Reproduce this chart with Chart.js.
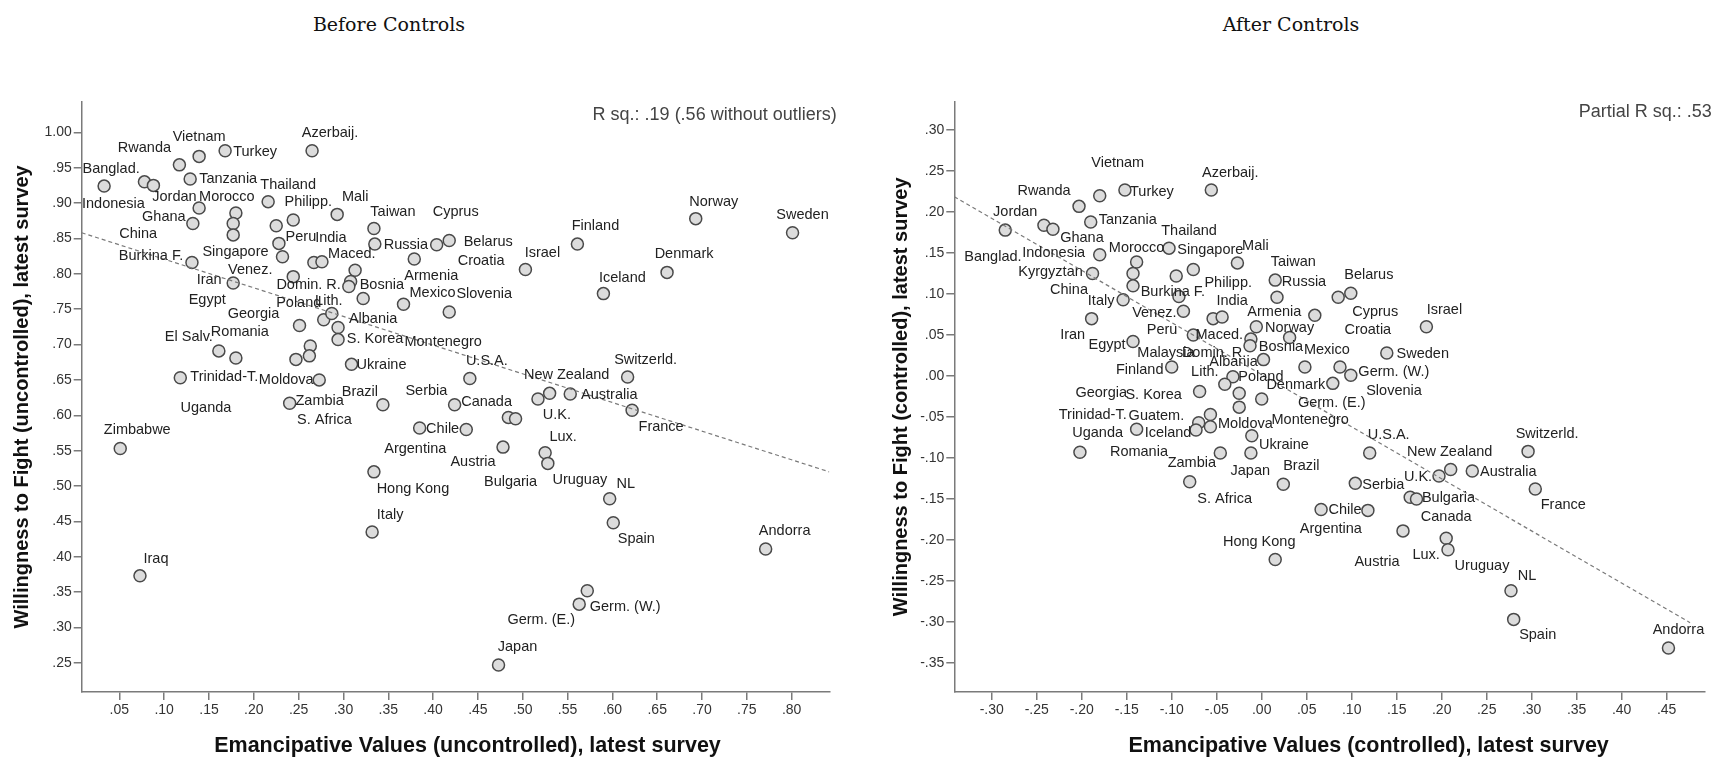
<!DOCTYPE html>
<html>
<head>
<meta charset="utf-8">
<script src="https://cdn.jsdelivr.net/npm/chart.js@4.4.1/dist/chart.umd.min.js"></script>
<style>
  body { margin: 0; background: #fff; width: 1715px; height: 758px; overflow: hidden; position: relative; }
  .panel { position: absolute; top: 90px; width: 845px; height: 668px; }
  .heading { position: absolute; top: 10px; line-height: 28px; font-family: "DejaVu Serif", serif; font-size: 19px; color: #111; transform: translateX(-50%); white-space: nowrap; }
</style>
</head>
<body>
<div class="heading" style="left:389px">Before Controls</div>
<div class="heading" style="left:1291px">After Controls</div>
<div class="panel" style="left:0"><canvas id="chartBefore" width="845" height="668"></canvas></div>
<div class="panel" style="left:870px"><canvas id="chartAfter" width="845" height="668"></canvas></div>

<script>
// Antes dos controles (uncontrolled)
const beforeCountries = [
  "Banglad.", "Indonesia", "Jordan", "Rwanda", "Vietnam", "Turkey", "Azerbaij.", "Tanzania", "China", "Ghana",
  "Morocco", "", "Egypt", "Thailand", "", "Philipp.", "Mali", "Peru", "Singapore", "Burkina F.",
  "Iran", "Venez.", "Maced.", "India", "Croatia", "Domin. R.", "Bosnia", "Montenegro", "Poland", "Lith.",
  "Albania", "S. Korea", "Georgia", "El Salv.", "Romania", "", "S. Africa", "Uganda", "Moldova", "Trinidad-T.",
  "Zambia", "Ukraine", "Taiwan", "Russia", "Cyprus", "Belarus", "Armenia", "Mexico", "Slovenia", "U.S.A.",
  "Brazil", "Canada", "Israel", "Finland", "Iceland", "U.K.", "New Zealand", "Australia", "Switzerld.", "France",
  "Serbia", "Bulgaria", "Norway", "Sweden", "Denmark", "Zimbabwe", "Iraq", "Chile", "Argentina", "Austria",
  "Lux.", "Uruguay", "Hong Kong", "NL", "Spain", "Italy", "Germ. (E.)", "Germ. (W.)", "Japan", "Andorra",
];
const beforeEmancipation = [
  0.033, 0.078, 0.088, 0.117, 0.139, 0.168, 0.265, 0.129, 0.139, 0.132,
  0.180, 0.177, 0.177, 0.216, 0.225, 0.244, 0.293, 0.228, 0.232, 0.131,
  0.177, 0.244, 0.267, 0.276, 0.313, 0.308, 0.306, 0.322, 0.278, 0.287,
  0.294, 0.294, 0.251, 0.161, 0.180, 0.263, 0.262, 0.247, 0.273, 0.118,
  0.240, 0.309, 0.334, 0.335, 0.404, 0.418, 0.379, 0.367, 0.418, 0.441,
  0.344, 0.424, 0.503, 0.561, 0.590, 0.517, 0.530, 0.553, 0.617, 0.622,
  0.484, 0.492, 0.693, 0.801, 0.661, 0.051, 0.073, 0.385, 0.437, 0.478,
  0.525, 0.528, 0.334, 0.597, 0.601, 0.332, 0.572, 0.563, 0.473, 0.771,
];
const beforeWillingness = [
  0.924, 0.930, 0.925, 0.954, 0.966, 0.974, 0.974, 0.934, 0.893, 0.871,
  0.886, 0.871, 0.855, 0.902, 0.868, 0.876, 0.884, 0.843, 0.824, 0.816,
  0.787, 0.796, 0.816, 0.817, 0.805, 0.789, 0.782, 0.765, 0.735, 0.744,
  0.724, 0.707, 0.727, 0.691, 0.681, 0.698, 0.684, 0.679, 0.650, 0.653,
  0.617, 0.672, 0.864, 0.842, 0.841, 0.847, 0.821, 0.757, 0.746, 0.652,
  0.615, 0.615, 0.806, 0.842, 0.772, 0.623, 0.631, 0.630, 0.654, 0.607,
  0.597, 0.595, 0.878, 0.858, 0.802, 0.553, 0.373, 0.582, 0.580, 0.555,
  0.547, 0.532, 0.520, 0.482, 0.448, 0.435, 0.352, 0.333, 0.247, 0.411,
];
const beforeFitX = [0.008, 0.842];
const beforeFitY = [0.858, 0.520];
const beforeXTicks = [0.05, 0.10, 0.15, 0.20, 0.25, 0.30, 0.35, 0.40, 0.45, 0.50, 0.55, 0.60, 0.65, 0.70, 0.75, 0.80];
const beforeYTicks = [0.25, 0.30, 0.35, 0.40, 0.45, 0.50, 0.55, 0.60, 0.65, 0.70, 0.75, 0.80, 0.85, 0.90, 0.95, 1.00];

// Depois dos controles (controlled)
const afterCountries = [
  "Jordan", "Banglad.", "Ghana", "Rwanda", "Vietnam", "Turkey", "Tanzania", "Indonesia", "Kyrgyztan", "Morocco",
  "China", "Peru", "Italy", "Iran", "Egypt", "Finland", "Thailand", "Philipp.", "Singapore", "Burkina F.",
  "Venez.", "Maced.", "Azerbaij.", "Mali", "Taiwan", "Russia", "Cyprus", "Belarus", "India", "Domin. R.",
  "Croatia", "Israel", "Armenia", "Norway", "Malaysia", "Bosnia", "Albania", "Mexico", "Slovenia", "Germ. (W.)",
  "Sweden", "Denmark", "Poland", "Lith.", "S. Korea", "Georgia", "Germ. (E.)", "Montenegro", "Guatem.", "Trinidad-T.",
  "Iceland", "Moldova", "Uganda", "Romania", "Zambia", "Japan", "Ukraine", "S. Africa", "Brazil", "U.S.A.",
  "Serbia", "U.K.", "New Zealand", "Canada", "Bulgaria", "Chile", "Argentina", "Austria", "Lux.", "Uruguay",
  "Hong Kong", "Australia", "Switzerld.", "France", "NL", "Spain", "Andorra",
];
const afterEmancipation = [
  -0.285, -0.242, -0.232, -0.203, -0.180, -0.152, -0.190, -0.180, -0.188, -0.139,
  -0.143, -0.143, -0.154, -0.189, -0.143, -0.100, -0.103, -0.095, -0.076, -0.092,
  -0.087, -0.076, -0.056, -0.027, 0.015, 0.017, 0.085, 0.099, -0.054, -0.044,
  0.059, 0.183, -0.006, 0.031, -0.012, -0.013, 0.002, 0.048, 0.087, 0.099,
  0.139, 0.079, -0.032, -0.041, -0.069, -0.025, 0.000, -0.025, -0.057, -0.070,
  -0.073, -0.057, -0.139, -0.202, -0.011, -0.046, -0.012, -0.080, 0.024, 0.120,
  0.104, 0.197, 0.210, 0.165, 0.172, 0.066, 0.118, 0.157, 0.205, 0.207,
  0.015, 0.234, 0.296, 0.304, 0.277, 0.280, 0.452,
];
const afterWillingness = [
  0.178, 0.184, 0.179, 0.207, 0.220, 0.227, 0.188, 0.148, 0.125, 0.139,
  0.125, 0.110, 0.093, 0.070, 0.042, 0.011, 0.156, 0.122, 0.130, 0.097,
  0.079, 0.050, 0.227, 0.138, 0.117, 0.096, 0.096, 0.101, 0.070, 0.072,
  0.074, 0.060, 0.060, 0.047, 0.045, 0.037, 0.020, 0.011, 0.011, 0.001,
  0.028, -0.009, -0.001, -0.010, -0.019, -0.021, -0.028, -0.038, -0.047, -0.057,
  -0.066, -0.062, -0.065, -0.093, -0.073, -0.094, -0.094, -0.129, -0.132, -0.094,
  -0.131, -0.122, -0.114, -0.148, -0.150, -0.163, -0.164, -0.189, -0.198, -0.212,
  -0.224, -0.116, -0.092, -0.138, -0.262, -0.297, -0.332,
];
const afterFitX = [-0.3416, 0.476];
const afterFitY = [0.2188, -0.301];
const afterXTicks = [-0.30, -0.25, -0.20, -0.15, -0.10, -0.05, 0.00, 0.05, 0.10, 0.15, 0.20, 0.25, 0.30, 0.35, 0.40, 0.45];
const afterYTicks = [-0.35, -0.30, -0.25, -0.20, -0.15, -0.10, -0.05, 0.00, 0.05, 0.10, 0.15, 0.20, 0.25, 0.30];

// deslocamento (px) de cada rótulo em relação ao ponto
const beforeLabelShift = {
  "Banglad.": [7, -17], "Indonesia": [-31, 22], "Jordan": [21, 12], "Rwanda": [-35, -17], "Vietnam": [0, -19],
  "Turkey": [30, 1], "Azerbaij.": [18, -18], "Tanzania": [38, 0], "China": [-61, 26], "Ghana": [-29, -7],
  "Morocco": [-9, -16], "Egypt": [-26, 65], "Thailand": [20, -17], "Philipp.": [15, -18], "Mali": [18, -17],
  "Peru": [22, -6], "Singapore": [-47, -5], "Burkina F.": [-41, -6], "Iran": [-24, -3], "Venez.": [-43, -7],
  "Maced.": [38, -8], "India": [9, -24], "Croatia": [126, -9], "Domin. R.": [-42, 3], "Bosnia": [33, -2],
  "Montenegro": [80, 43], "Poland": [-25, -17], "Lith.": [-3, -12], "Albania": [35, -9], "S. Korea": [37, -1],
  "Georgia": [-46, -11], "El Salv.": [-30, -14], "Romania": [4, -26], "S. Africa": [15, 64], "Uganda": [-90, 49],
  "Moldova": [-33, 0], "Trinidad-T.": [44, -1], "Zambia": [30, -2], "Ukraine": [30, 1], "Taiwan": [19, -17],
  "Russia": [31, 1], "Cyprus": [19, -33], "Belarus": [39, 1], "Armenia": [17, 17], "Mexico": [29, -11],
  "Slovenia": [35, -18], "U.S.A.": [17, -17], "Brazil": [-23, -13], "Canada": [32, -3], "Israel": [17, -17],
  "Finland": [18, -18], "Iceland": [19, -16], "U.K.": [19, 16], "New Zealand": [17, -18], "Australia": [39, 1],
  "Switzerld.": [18, -17], "France": [29, 17], "Serbia": [-82, -26], "Bulgaria": [-5, 63], "Norway": [18, -17],
  "Sweden": [10, -18], "Denmark": [17, -18], "Zimbabwe": [17, -19], "Iraq": [16, -17], "Chile": [23, 1],
  "Argentina": [-51, 20], "Austria": [-30, 15], "Lux.": [18, -16], "Uruguay": [32, 17], "Hong Kong": [39, 17],
  "NL": [16, -15], "Spain": [23, 16], "Italy": [18, -17], "Germ. (E.)": [-46, 29], "Germ. (W.)": [46, 3],
  "Japan": [19, -18], "Andorra": [19, -18],
};
const afterLabelShift = {
  "Jordan": [10, -18], "Banglad.": [-51, 32], "Ghana": [29, 9], "Rwanda": [-35, -15], "Vietnam": [18, -33],
  "Turkey": [27, 2], "Tanzania": [37, -2], "Indonesia": [-46, -2], "Kyrgyztan": [-42, -2], "Morocco": [0, -14],
  "China": [-64, 16], "Peru": [29, 44], "Italy": [-22, 1], "Iran": [-19, 16], "Egypt": [-26, 3],
  "Finland": [-32, 3], "Thailand": [20, -17], "Philipp.": [52, 7], "Singapore": [17, -19], "Burkina F.": [-6, -4],
  "Venez.": [-29, 2], "Maced.": [26, 0], "Azerbaij.": [19, -17], "Mali": [18, -17], "Taiwan": [18, -18],
  "Russia": [27, -15], "Cyprus": [37, 15], "Belarus": [18, -18], "India": [19, -18], "Domin. R.": [-8, 36],
  "Croatia": [53, 15], "Israel": [18, -17], "Armenia": [18, -15], "Norway": [0, -9], "Malaysia": [-85, 14],
  "Bosnia": [31, 1], "Albania": [-30, 2], "Mexico": [22, -17], "Slovenia": [54, 24], "Germ. (W.)": [43, -3],
  "Sweden": [36, 1], "Denmark": [-37, 2], "Poland": [28, 0], "Lith.": [-20, -12], "S. Korea": [-46, 3],
  "Georgia": [-138, 0], "Germ. (E.)": [70, 4], "Montenegro": [71, 13], "Guatem.": [-54, 1], "Trinidad-T.": [-106, -8],
  "Iceland": [-28, 3], "Moldova": [35, -3], "Uganda": [-39, 4], "Romania": [59, 0], "Zambia": [-60, 27],
  "Japan": [30, 18], "Ukraine": [33, -8], "S. Africa": [35, 17], "Brazil": [18, -18], "U.S.A.": [19, -18],
  "Serbia": [28, 2], "U.K.": [-21, 1], "New Zealand": [-1, -17], "Canada": [36, 20], "Bulgaria": [32, -1],
  "Chile": [24, 0], "Argentina": [-37, 19], "Austria": [-26, 31], "Lux.": [-20, 17], "Uruguay": [34, 16],
  "Hong Kong": [-16, -18], "Australia": [36, 1], "Switzerld.": [19, -17], "France": [28, 16], "NL": [16, -15],
  "Spain": [24, 16], "Andorra": [10, -18],
};

const SANS = "'Liberation Sans', Arial, sans-serif";
const fmt = (v) => Number(v).toFixed(2).replace(/^(-?)0\./, "$1.");

// rótulos dos países, nota de R² e título do eixo x
function textPlugin(names, shift, note, noteShift, xTitle, xTitleShift) {
  return {
    id: "countryText",
    afterDatasetsDraw(chart) {
      const ctx = chart.ctx;
      const area = chart.chartArea;
      const meta = chart.getDatasetMeta(1);
      ctx.save();
      ctx.font = "14.5px " + SANS;
      ctx.fillStyle = "#222";
      ctx.textAlign = "center";
      ctx.textBaseline = "middle";
      meta.data.forEach((pt, i) => {
        const s = shift[names[i]];
        if (!names[i] || !s) return;
        ctx.fillText(names[i], pt.x + s[0], pt.y + s[1]);
      });

      ctx.font = "18px " + SANS;
      ctx.fillStyle = "#444";
      ctx.textAlign = "right";
      ctx.fillText(note, area.right + noteShift[0], area.top + noteShift[1]);

      ctx.font = "bold 21.5px " + SANS;
      ctx.fillStyle = "#111";
      ctx.textAlign = "center";
      ctx.fillText(xTitle, (area.left + area.right) / 2 + xTitleShift, 656);
      ctx.restore();
    },
  };
}

function makeScatter(canvasId, cfg) {
  return new Chart(document.getElementById(canvasId), {
    type: "scatter",
    data: {
      datasets: [
        {
          label: "fit",
          data: cfg.fitX.map((x, i) => ({ x: x, y: cfg.fitY[i] })),
          showLine: true,
          borderColor: "#7a7a7a",
          borderWidth: 1.2,
          borderDash: [4, 3],
          pointRadius: 0,
        },
        {
          label: "countries",
          data: cfg.xs.map((x, i) => ({ x: x, y: cfg.ys[i] })),
          pointRadius: 6,
          pointBackgroundColor: "#dcdcdc",
          pointBorderColor: "#4a4a4a",
          pointBorderWidth: 1.5,
        },
      ],
    },
    options: {
      responsive: false,
      animation: false,
      layout: { padding: { top: 11.7, right: cfg.padRight, bottom: 0, left: 0 } },
      plugins: { legend: { display: false }, tooltip: { enabled: false } },
      scales: {
        x: {
          type: "linear",
          min: cfg.xMin,
          max: cfg.xMax,
          afterFit(scale) { scale.height = 66; },
          afterBuildTicks(scale) { scale.ticks = cfg.xTicks.map((v) => ({ value: v })); },
          grid: { drawOnChartArea: false, tickLength: 8, color: "#7a7a7a", lineWidth: 1.5 },
          border: { color: "#7a7a7a", width: 1.5 },
          ticks: {
            autoSkip: false,
            maxRotation: 0,
            padding: 2,
            color: "#333",
            font: { family: SANS, size: 14 },
            callback: (v) => fmt(v),
          },
        },
        y: {
          type: "linear",
          min: cfg.yMin,
          max: cfg.yMax,
          afterFit(scale) { scale.width = cfg.yWidth; },
          afterBuildTicks(scale) { scale.ticks = cfg.yTicks.map((v) => ({ value: v })); },
          grid: { drawOnChartArea: false, tickLength: 8, color: "#7a7a7a", lineWidth: 1.5 },
          border: { color: "#7a7a7a", width: 1.5 },
          ticks: {
            autoSkip: false,
            padding: 2,
            color: "#333",
            font: { family: SANS, size: 14 },
            callback: (v) => fmt(v),
          },
          title: {
            display: true,
            text: cfg.yTitle,
            color: "#111",
            padding: { top: cfg.yTitlePad, bottom: 0 },
            font: { family: SANS, size: 20, weight: "bold" },
          },
        },
      },
    },
    plugins: [textPlugin(cfg.names, cfg.shift, cfg.note, cfg.noteShift, cfg.xTitle, cfg.xTitleShift)],
  });
}

makeScatter("chartBefore", {
  names: beforeCountries,
  xs: beforeEmancipation,
  ys: beforeWillingness,
  fitX: beforeFitX,
  fitY: beforeFitY,
  xTicks: beforeXTicks,
  yTicks: beforeYTicks,
  shift: beforeLabelShift,
  xMin: 0.008, xMax: 0.842,
  yMin: 0.2088, yMax: 1.0433,
  yWidth: 81.7,
  padRight: 15.7,
  yTitlePad: 10,
  yTitle: "Willingness to Fight (uncontrolled), latest survey",
  xTitle: "Emancipative Values (uncontrolled), latest survey",
  xTitleShift: 12,
  note: "R sq.: .19 (.56 without outliers)",
  noteShift: [7.4, 13.3],
});

makeScatter("chartAfter", {
  names: afterCountries,
  xs: afterEmancipation,
  ys: afterWillingness,
  fitX: afterFitX,
  fitY: afterFitY,
  xTicks: afterXTicks,
  yTicks: afterYTicks,
  shift: afterLabelShift,
  xMin: -0.3416, xMax: 0.4926,
  yMin: -0.3856, yMax: 0.3347,
  yWidth: 84.3,
  padRight: 10,
  yTitlePad: 19,
  yTitle: "Willingness to Fight (controlled), latest survey",
  xTitle: "Emancipative Values (controlled), latest survey",
  xTitleShift: 39,
  note: "Partial R sq.: .53",
  noteShift: [6.7, 10.6],
});
</script>
</body>
</html>
